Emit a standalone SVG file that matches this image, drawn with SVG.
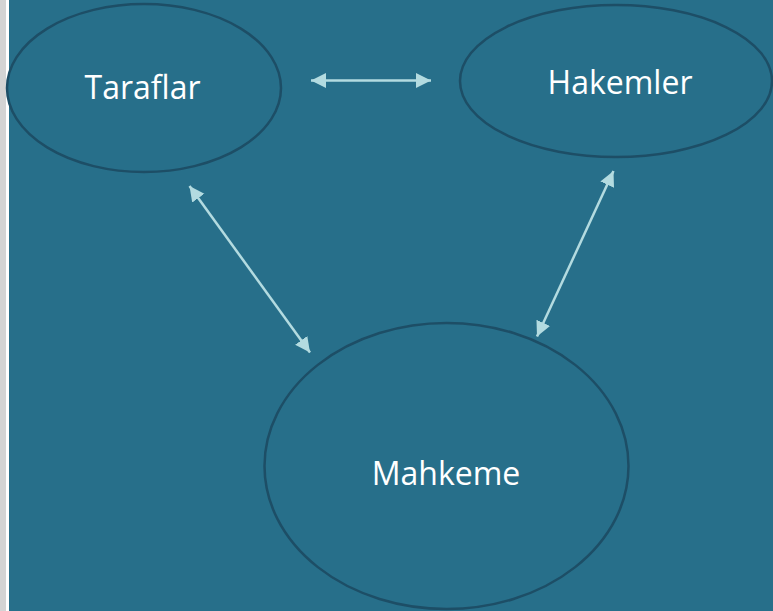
<svg xmlns="http://www.w3.org/2000/svg" width="773" height="611" viewBox="0 0 773 611">
  <style>
    .node ellipse { fill: #276F8A; stroke: #1D4E66; stroke-width: 2.5; }
    .node text { font-family: "Open Sans", "Liberation Sans", sans-serif; font-size: 32px; fill: #FFFFFF; text-anchor: middle; }
    .conn line { stroke: #B3DBE0; stroke-width: 2.5; marker-start: url(#ah); marker-end: url(#ah); }
  </style>
  <defs>
    <marker id="ah" markerUnits="userSpaceOnUse" markerWidth="16" markerHeight="16" viewBox="0 0 16 16" refX="15" refY="7.5" orient="auto-start-reverse">
      <path d="M0,0 L15,7.5 L0,15 Z" fill="#B3DBE0"/>
    </marker>
  </defs>
  <rect x="0" y="0" width="773" height="611" fill="#276F8A"/>
  <rect x="0" y="0" width="6" height="611" fill="#D4D4D4"/>
  <rect x="6" y="0" width="3" height="611" fill="#FFFFFF"/>
  <g id="taraflar" class="node">
    <ellipse cx="144" cy="88" rx="137" ry="84"/>
    <text x="142.5" y="99">Taraflar</text>
  </g>
  <g id="hakemler" class="node">
    <ellipse cx="616" cy="81" rx="156" ry="76"/>
    <text x="620" y="94">Hakemler</text>
  </g>
  <g id="mahkeme" class="node">
    <ellipse cx="446.5" cy="466" rx="182" ry="143"/>
    <text x="446" y="485">Mahkeme</text>
  </g>
  <g id="connectors" class="conn">
    <line x1="311" y1="80.5" x2="431" y2="80.5"/>
    <line x1="189.5" y1="186" x2="310" y2="352.5"/>
    <line x1="613.5" y1="171" x2="537" y2="336.5"/>
  </g>
</svg>
